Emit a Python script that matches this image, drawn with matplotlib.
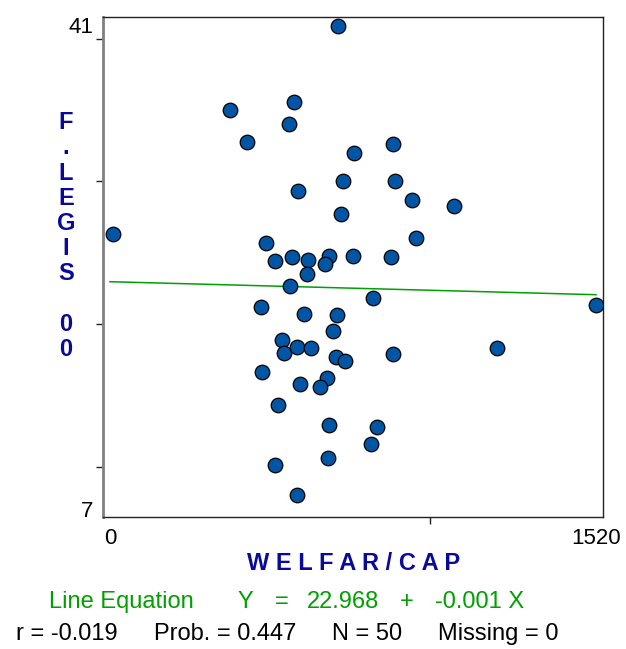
import numpy as np
import matplotlib.pyplot as plt

plt.rcParams["font.family"] = ["Liberation Sans", "DejaVu Sans"]

# ─── Data ──────────────────────────────────────────────────────────────
welfar_cap = [
    714.0, 575.5, 374.4, 559.8, 427.5, 763.1, 727.8, 588.0, 721.5, 8.4,
    487.0, 516.1, 569.2, 618.3, 684.9, 673.4, 759.1, 617.1, 563.0, 471.3,
    606.8, 710.0, 697.5, 537.9, 545.1, 583.9, 627.7, 706.8, 735.0, 475.4,
    594.2, 677.8, 655.9, 526.4, 685.9, 682.8, 515.1, 583.9, 886.1, 891.4,
    943.6, 1075.9, 958.0, 878.9, 823.5, 886.1, 1209.4, 1519.1, 836.0, 815.4,
]
f_legis = [
    40.9, 35.6, 35.0, 34.0, 32.8, 32.0, 30.0, 29.3, 27.7, 26.3,
    25.7, 24.4, 24.7, 24.5, 24.8, 24.2, 24.8, 23.5, 22.7, 21.2,
    20.7, 20.6, 19.5, 18.9, 18.0, 18.4, 18.3, 17.7, 17.4, 16.6,
    15.8, 16.2, 15.6, 14.3, 12.9, 10.6, 10.1, 8.0, 32.6, 30.0,
    28.7, 28.3, 26.0, 24.7, 21.8, 17.9, 18.3, 21.3, 12.8, 11.6,
]
fit_intercept = 22.968
fit_slope = -0.0006
x_range = [0, 1520]
y_range = [7, 41]
x_ticks = [0, 1000]
y_ticks = [10, 20, 30, 40]

W, H = 626, 649
fig = plt.figure(figsize=(W / 100, H / 100), dpi=100)
ax = fig.add_axes([102.7 / W, 1 - 516.7 / H, (603 - 102.7) / W, (516.7 - 17) / H])

# regression line
xl = np.array(x_range, dtype=float)
ax.plot(xl, fit_intercept + fit_slope * xl, color="#00A000", lw=1.1, zorder=2)

ax.scatter(welfar_cap, f_legis, s=110, color="#0055A5", edgecolor="black",
           linewidth=0.9, zorder=3)

ax.set_xlim(-22.8, 1542)
ax.set_ylim(6.48, 41.54)

# labelled extremes without marks, plain marks at round values
ax.set_xticks(x_range, labels=[str(v) for v in x_range])
ax.set_yticks(y_range, labels=[str(v) for v in y_range])
ax.set_xticks(x_ticks, minor=True)
ax.set_yticks(y_ticks, minor=True)
ax.tick_params(which="major", length=0, labelsize=16, pad=8)
ax.tick_params(axis="y", which="major", pad=7)
ax.tick_params(which="minor", length=5, width=1, color="#222222")

for side in ["top", "right", "bottom"]:
    ax.spines[side].set_color("#222222")
    ax.spines[side].set_linewidth(1.0)
ax.spines["left"].set_color("#808080")
ax.spines["left"].set_linewidth(2.0)

navy = "#0A0A9A"
fig.text(66 / W, 1 - 236 / H, "F\n.\nL\nE\nG\nI\nS\n\n0\n0", color=navy,
         fontsize=17, fontweight="bold", ha="center", va="center",
         linespacing=1.12)
fig.text(354 / W, 1 - 563 / H, "W E L F A R / C A P", color=navy,
         fontsize=17, fontweight="bold", ha="center", va="center")

green = "#00A000"
eq_parts = [("Line Equation", 49), ("Y", 238), ("=", 275), ("22.968", 307),
            ("+", 400), ("-0.001 X", 435)]
for s, x in eq_parts:
    fig.text(x / W, 1 - 602 / H, s, color=green, fontsize=17,
             ha="left", va="center")

stat_parts = [("r = -0.019", 16), ("Prob. = 0.447", 154), ("N = 50", 332),
              ("Missing = 0", 438)]
for s, x in stat_parts:
    fig.text(x / W, 1 - 634 / H, s, color="black", fontsize=17,
             ha="left", va="center")

fig.savefig("out.png", dpi=100)
